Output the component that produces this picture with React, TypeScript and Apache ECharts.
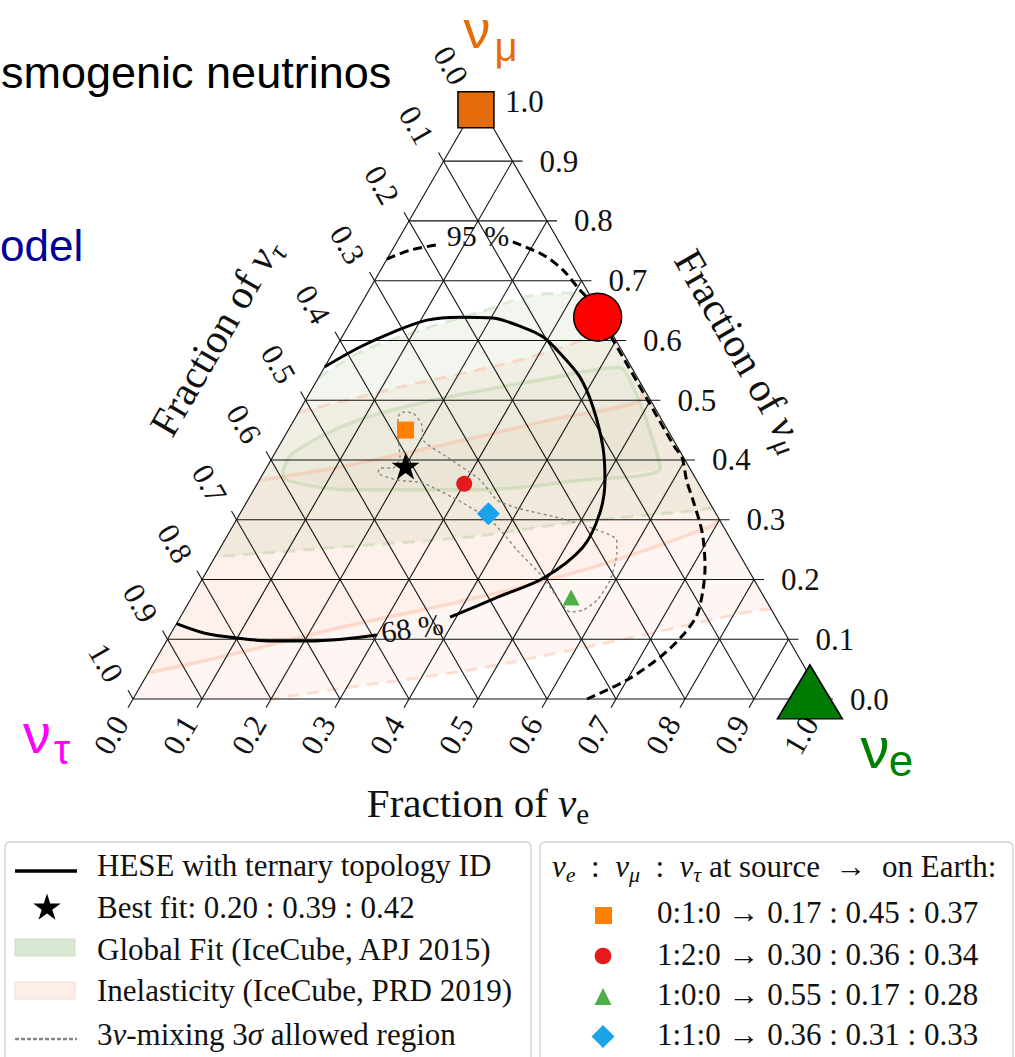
import React, { useEffect, useRef } from "react";
import * as echarts from "echarts";

const SQ3 = Math.sqrt(3) / 2;

// Tick positions shared by the three ternary axes
const tickValues = [0, 0.1, 0.2, 0.3, 0.4, 0.5, 0.6, 0.7, 0.8, 0.9, 1.0];
const tickLabels = ["0.0", "0.1", "0.2", "0.3", "0.4", "0.5", "0.6", "0.7", "0.8", "0.9", "1.0"];

// Every composition below is [fraction of νe, fraction of νμ]; ντ is the remainder.
const bestFit = [0.2, 0.39, 0.42];

const sourceRatios = ["0:1:0", "1:2:0", "1:0:0", "1:1:0"];
const earthNuE = [0.17, 0.3, 0.55, 0.36];
const earthNuMu = [0.45, 0.36, 0.17, 0.31];
const earthNuTau = [0.37, 0.34, 0.28, 0.33];

// Large source markers near the νμ corner, the νμ/νe edge and the νe corner
const cornerNuE = [0.004, 0.354, 0.975];
const cornerNuMu = [0.986, 0.639, 0.012];

// HESE ternary-topology contours
const hese68Lower = [
  [0.0, 0.126], [0.049, 0.11], [0.1, 0.102], [0.153, 0.097], [0.204, 0.097], [0.253, 0.1], [0.3, 0.107],
];
const hese68Upper = [
  [0.391, 0.137], [0.446, 0.172], [0.494, 0.2025], [0.525, 0.254], [0.521, 0.311], [0.501, 0.366],
  [0.47, 0.422], [0.422, 0.489], [0.378, 0.539], [0.329, 0.579], [0.291, 0.606], [0.254, 0.622],
  [0.203, 0.6375], [0.154, 0.639], [0.109, 0.634], [0.07, 0.614], [0.0345, 0.589], [0.0, 0.556],
];
const hese95Left = [[0.0, 0.736], [0.026, 0.751], [0.061, 0.76]];
const hese95Right = [
  [0.168, 0.765], [0.223, 0.743], [0.264, 0.718], [0.301, 0.688], [0.336, 0.66], [0.396, 0.6],
  [0.496, 0.5], [0.576, 0.42], [0.593, 0.405], [0.62, 0.365], [0.645, 0.333], [0.686, 0.278],
  [0.7185, 0.221], [0.735, 0.182], [0.747, 0.1406], [0.7436, 0.107], [0.729, 0.0703], [0.7, 0.0318],
  [0.658, 0.0],
];
const contourLabelText = ["68 %", "95 %"];
const contourLabelPos = [[0.345, 0.119], [0.1126, 0.775]];

// Global fit (IceCube, APJ 2015)
const globalFit95Upper = [[0, 0.537], [0.0387, 0.5807], [0.107, 0.6175], [0.179, 0.6476], [0.251, 0.6777], [0.32, 0.68]];
const globalFit95Lower = [[0.68, 0.32], [0.6637, 0.3163], [0.486, 0.2945], [0.353, 0.271], [0.159, 0.2527], [0, 0.2376]];
const globalFit68 = [
  [0.026, 0.383], [0.026, 0.4116], [0.0836, 0.4618], [0.185, 0.5003], [0.336, 0.537], [0.426, 0.555],
  [0.47, 0.515], [0.52, 0.455], [0.571, 0.3865], [0.469, 0.3665], [0.332, 0.35], [0.1395, 0.35],
  [0.032, 0.3715],
];

// Inelasticity (IceCube, PRD 2019)
const inel95Upper = [[0, 0.48], [0.126, 0.522], [0.252, 0.559], [0.325, 0.587], [0.38, 0.62]];
const inel95Lower = [[0.85, 0.15], [0.834, 0.149], [0.657, 0.0987], [0.464, 0.0485], [0.278, 0.015], [0.2, 0]];
const inel68Lower = [[0, 0.0435], [0.104, 0.0736], [0.228, 0.1155], [0.418, 0.1707], [0.565, 0.224], [0.692, 0.288], [0.7, 0.3]];
const inel68Upper = [[0.47, 0.53], [0.486, 0.505], [0.371, 0.467], [0.245, 0.428], [0.119, 0.3916], [0, 0.366]];

// 3ν-mixing 3σ allowed region
const mixingRegion = [
  [0.15, 0.48], [0.1665, 0.4786], [0.1895, 0.4585], [0.2036, 0.4334], [0.2526, 0.405], [0.3197, 0.3665],
  [0.361, 0.333], [0.3967, 0.3196], [0.479, 0.2995], [0.568, 0.266], [0.579, 0.2443], [0.592, 0.1991],
  [0.59, 0.1657], [0.578, 0.1489], [0.5605, 0.1456], [0.529, 0.1707], [0.492, 0.204], [0.432, 0.2493],
  [0.397, 0.2778], [0.368, 0.2995], [0.314, 0.328], [0.2396, 0.3614], [0.1994, 0.3665], [0.166, 0.3782],
  [0.1647, 0.3865], [0.1835, 0.3865], [0.1845, 0.405], [0.1649, 0.4384], [0.148, 0.4719], [0.15, 0.48],
];

const serif = '"Liberation Serif", "DejaVu Serif", serif';
const sans = '"Liberation Sans", Arial, sans-serif';

const GREEN_LINE = "rgba(150,195,130,0.3)";
const PINK_LINE = "rgba(250,175,145,0.38)";

function tern(p: number[]): number[] {
  return [p[0] + p[1] / 2, p[1] * SQ3];
}

function mathRich(size: number, sub: number, color = "#111") {
  return {
    r: { fontFamily: serif, fontSize: size, lineHeight: size * 1.25, fill: color },
    m: { fontFamily: serif, fontSize: size, fontStyle: "italic", lineHeight: size * 1.25, fill: color },
    s: { fontFamily: serif, fontSize: sub, lineHeight: sub, verticalAlign: "bottom", fill: color },
    si: { fontFamily: serif, fontSize: sub, fontStyle: "italic", lineHeight: sub, verticalAlign: "bottom", fill: color },
  };
}

function regionFill(pts: number[][], color: string, z: number) {
  return {
    type: "custom",
    coordinateSystem: "cartesian2d",
    data: [[0.5, 0.3]],
    z,
    silent: true,
    clip: false,
    renderItem: (_p: any, api: any) => ({
      type: "polygon",
      shape: { points: pts.map((q) => api.coord(tern(q))) },
      style: { fill: color },
    }),
  };
}

function curve(pts: number[][], color: string, width: number, dash: any, z: number, smooth = 0.3) {
  return {
    type: "line",
    data: pts.map(tern),
    symbol: "none",
    smooth,
    clip: false,
    silent: true,
    z,
    lineStyle: { color, width, type: dash },
  };
}

function starPath(): string {
  const pts: string[] = [];
  for (let k = 0; k < 10; k++) {
    const r = k % 2 === 0 ? 1 : 0.382;
    const a = -Math.PI / 2 + (k * Math.PI) / 5;
    pts.push(`${(r * Math.cos(a)).toFixed(4)} ${(r * Math.sin(a)).toFixed(4)}`);
  }
  return "M" + pts.join(" L") + " Z";
}

function starPoints(cx: number, cy: number, R: number): number[][] {
  const pts: number[][] = [];
  for (let k = 0; k < 10; k++) {
    const r = k % 2 === 0 ? R : R * 0.382;
    const a = -Math.PI / 2 + (k * Math.PI) / 5;
    pts.push([cx + r * Math.cos(a), cy + r * Math.sin(a)]);
  }
  return pts;
}

function buildOption() {
  const TICK = 10;
  const tickFont = 31;

  const gridSeries = {
    type: "custom",
    coordinateSystem: "cartesian2d",
    data: tickValues.map((v) => [v, 0]),
    z: 3,
    silent: true,
    clip: false,
    renderItem: (params: any, api: any) => {
      const i = params.dataIndex;
      const v = tickValues[i];
      const label = tickLabels[i];
      const P = (e: number, m: number) => api.coord(tern([e, m]));
      const ln = (a: number[], b: number[]) => ({
        type: "line",
        shape: { x1: a[0], y1: a[1], x2: b[0], y2: b[1] },
        style: { stroke: "#111", lineWidth: 1.1 },
      });
      const txt = (x: number, y: number, rot: number, align: string) => ({
        type: "text",
        x,
        y,
        rotation: rot,
        style: {
          text: label,
          x: 0,
          y: 0,
          align,
          verticalAlign: "middle",
          fontFamily: serif,
          fontSize: tickFont,
          fill: "#111",
        },
      });
      // constant νμ (horizontal) with tick to the right
      const mL = P(0, v);
      const mR = P(1 - v, v);
      // constant νe with tick below the base
      const eB = P(v, 0);
      const eR = P(v, 1 - v);
      // constant ντ with tick beyond the left side
      const tB = P(1 - v, 0);
      const tL = P(0, 1 - v);
      return {
        type: "group",
        children: [
          ln(mL, [mR[0] + TICK, mR[1]]),
          ln([eB[0] - TICK * 0.5, eB[1] + TICK * SQ3], eR),
          ln(tB, [tL[0] - TICK * 0.5, tL[1] - TICK * SQ3]),
          txt(mR[0] + 27, mR[1], 0, "left"),
          txt(eB[0] - 22, eB[1] + 36, Math.PI / 3, "center"),
          txt(tL[0] - 27, tL[1] - 36, -Math.PI / 3, "center"),
        ],
      };
    },
  };

  const contourLabels = {
    type: "custom",
    coordinateSystem: "cartesian2d",
    data: contourLabelPos.map(tern),
    z: 5,
    silent: true,
    clip: false,
    renderItem: (params: any, api: any) => {
      const i = params.dataIndex;
      const c = api.coord(tern(contourLabelPos[i]));
      return {
        type: "text",
        x: c[0],
        y: c[1],
        rotation: i === 0 ? 0.14 : 0,
        style: {
          text: contourLabelText[i],
          align: "center",
          verticalAlign: "middle",
          fontFamily: serif,
          fontSize: 30,
          fill: "#111",
        },
      };
    },
  };

  const earthStyles = [
    { symbol: "rect", size: 17, color: "#ff7f00" },
    { symbol: "circle", size: 16, color: "#e41a1c" },
    { symbol: "triangle", size: [17, 16], color: "#4daf4a" },
    { symbol: "diamond", size: [23, 23], color: "#1aa3e8" },
  ];
  const earthSeries = earthStyles.map((s, i) => ({
    type: "scatter",
    data: [tern([earthNuE[i], earthNuMu[i]])],
    symbol: s.symbol,
    symbolSize: s.size,
    itemStyle: { color: s.color, opacity: 1 },
    z: 6,
    silent: true,
  }));

  const cornerStyles = [
    { symbol: "rect", size: 36, color: "#e46c0a" },
    { symbol: "circle", size: 48, color: "#ff0000" },
    { symbol: "triangle", size: [65, 54], color: "#007a00" },
  ];
  const cornerSeries = cornerStyles.map((s, i) => ({
    type: "scatter",
    data: [tern([cornerNuE[i], cornerNuMu[i]])],
    symbol: s.symbol,
    symbolSize: s.size,
    itemStyle: { color: s.color, borderColor: "#000", borderWidth: 1.5, opacity: 1 },
    z: 8,
    silent: true,
  }));

  const series: any[] = [
    regionFill([...inel95Upper, ...inel95Lower, [0, 0]], "rgba(250,170,140,0.11)", 1),
    regionFill([...inel68Lower, ...inel68Upper], "rgba(250,170,140,0.07)", 1),
    regionFill([...globalFit95Upper, ...globalFit95Lower], "rgba(170,195,140,0.15)", 1),
    regionFill(globalFit68, "rgba(170,195,140,0.08)", 1),
    curve(inel95Upper, PINK_LINE, 3, [12, 8], 2),
    curve(inel95Lower, PINK_LINE, 3, [12, 8], 2),
    curve(inel68Lower, PINK_LINE, 3.5, "solid", 2),
    curve(inel68Upper, PINK_LINE, 3.5, "solid", 2),
    curve(globalFit95Upper, GREEN_LINE, 3, [12, 8], 2),
    curve(globalFit95Lower, GREEN_LINE, 3, [12, 8], 2),
    curve([...globalFit68, globalFit68[0]], GREEN_LINE, 3.5, "solid", 2),
    gridSeries,
    curve(mixingRegion, "#888", 1.4, [3, 3], 4, 0.2),
    curve(hese68Lower, "#000", 3, "solid", 5),
    curve(hese68Upper, "#000", 3, "solid", 5),
    curve(hese95Left, "#000", 3, [9, 5], 5),
    curve(hese95Right, "#000", 3, [9, 5], 5),
    contourLabels,
    {
      type: "scatter",
      data: [tern(bestFit)],
      symbol: "path://" + starPath(),
      symbolSize: [28, 27],
      itemStyle: { color: "#000", opacity: 1 },
      z: 7,
      silent: true,
    },
    ...earthSeries,
    ...cornerSeries,
  ];

  // Legend and annotation text drawn in page pixels
  const leftRows = [865, 907, 949, 990.5, 1034];
  const rightRows = [912.5, 954, 994, 1034];
  const fmt = (v: number) => v.toFixed(2);
  const earthRows = sourceRatios.map(
    (s, i) => `${s} → ${fmt(earthNuE[i])} : ${fmt(earthNuMu[i])} : ${fmt(earthNuTau[i])}`
  );
  const legendText = (x: number, y: number, text: string, rich?: any) => ({
    type: "text",
    x,
    y,
    z: 20,
    style: {
      text,
      rich,
      align: "left",
      verticalAlign: "middle",
      fontFamily: serif,
      fontSize: 31,
      fill: "#111",
    },
  });
  const big = (x: number, y: number, text: string, size: number, fill: string) => ({
    type: "text",
    x,
    y,
    style: { text, align: "center", verticalAlign: "middle", fontFamily: sans, fontSize: size, lineHeight: size * 0.8, fill },
  });

  const graphic: any[] = [
    // slide text fragments
    {
      type: "text", x: 1, y: 72, style: { text: "smogenic neutrinos", align: "left", verticalAlign: "middle", fontFamily: sans, fontSize: 45, fill: "#000" },
    },
    {
      type: "text", x: 0, y: 245, style: { text: "odel", align: "left", verticalAlign: "middle", fontFamily: sans, fontSize: 44, fill: "#000099" },
    },
    // flavour corner names
    big(477, 29, "ν", 54, "#e46c0a"),
    big(506, 47, "μ", 40, "#e46c0a"),
    big(37, 733, "ν", 56, "#ff00ff"),
    big(62, 749, "τ", 42, "#ff00ff"),
    big(875, 747, "ν", 58, "#008000"),
    big(901, 760, "e", 44, "#008000"),
    // axis titles
    {
      type: "text", x: 478, y: 803,
      style: { text: "{r|Fraction of }{m|ν}{s|e}", rich: mathRich(41, 29), align: "center", verticalAlign: "middle" },
    },
    {
      type: "text", x: 741, y: 350, rotation: -Math.PI / 3,
      style: { text: "{r|Fraction of }{m|ν}{si|μ}", rich: mathRich(41, 29), align: "center", verticalAlign: "middle" },
    },
    {
      type: "text", x: 215, y: 337, rotation: Math.PI / 3,
      style: { text: "{r|Fraction of }{m|ν}{si|τ}", rich: mathRich(41, 29), align: "center", verticalAlign: "middle" },
    },
    // legend frames
    { type: "rect", z: 10, shape: { x: 5, y: 842, width: 526, height: 260, r: 5 }, style: { fill: "#fff", stroke: "#cfcfcf", lineWidth: 1.3 } },
    { type: "rect", z: 10, shape: { x: 540, y: 842, width: 473, height: 260, r: 5 }, style: { fill: "#fff", stroke: "#cfcfcf", lineWidth: 1.3 } },
    // left legend handles
    { type: "line", z: 20, shape: { x1: 15, y1: 871, x2: 77, y2: 871 }, style: { stroke: "#000", lineWidth: 3.5 } },
    { type: "polygon", z: 20, shape: { points: starPoints(47, 908, 14.5) }, style: { fill: "#000" } },
    { type: "rect", z: 20, shape: { x: 15, y: 939, width: 60, height: 17 }, style: { fill: "#d9e8d2", stroke: "#cadcc1", lineWidth: 1 } },
    { type: "rect", z: 20, shape: { x: 15, y: 982, width: 60, height: 17 }, style: { fill: "#fdeee8", stroke: "#f2dcd3", lineWidth: 1 } },
    { type: "line", z: 20, shape: { x1: 15, y1: 1039, x2: 77, y2: 1039 }, style: { stroke: "#888", lineWidth: 2.5, lineDash: [4, 2] } },
    legendText(97, leftRows[0], "HESE with ternary topology ID"),
    legendText(97, leftRows[1], `Best fit: ${bestFit.map(fmt).join(" : ")}`),
    legendText(97, leftRows[2], "Global Fit (IceCube, APJ 2015)"),
    legendText(97, leftRows[3], "Inelasticity (IceCube, PRD 2019)"),
    legendText(97, leftRows[4], "{r|3}{m|ν}{r|-mixing 3}{m|σ}{r| allowed region}", mathRich(31, 22)),
    // right legend
    legendText(
      552,
      866,
      "{m|ν}{si|e}{r|\u2002:\u2002}{m|ν}{si|μ}{r|\u2002:\u2002}{m|ν}{si|τ}{r| at source\u2002→\u2002on Earth:}",
      mathRich(31, 22)
    ),
    { type: "rect", z: 20, shape: { x: 595, y: 907, width: 17, height: 17 }, style: { fill: "#ff7f00" } },
    { type: "circle", z: 20, shape: { cx: 603, cy: 956, r: 8.3 }, style: { fill: "#e41a1c" } },
    { type: "polygon", z: 20, shape: { points: [[603, 988], [594.5, 1005], [611.5, 1005]] }, style: { fill: "#4daf4a" } },
    { type: "polygon", z: 20, shape: { points: [[603, 1025], [614.5, 1036.5], [603, 1048], [591.5, 1036.5]] }, style: { fill: "#1aa3e8" } },
    ...earthRows.map((t, i) => legendText(657, rightRows[i], t)),
  ];

  return {
    animation: false,
    backgroundColor: "#fff",
    grid: { left: 133, top: 101.4, width: 690, height: 597.6 },
    xAxis: { type: "value", min: 0, max: 1, show: false },
    yAxis: { type: "value", min: 0, max: SQ3, show: false },
    series,
    graphic,
  };
}

export default function App() {
  const ref = useRef<HTMLDivElement>(null);
  useEffect(() => {
    if (!ref.current) return;
    const chart = echarts.init(ref.current, null, { renderer: "svg" });
    chart.setOption(buildOption() as any);
    return () => chart.dispose();
  }, []);
  return (
    <div
      ref={ref}
      style={{ position: "absolute", left: 0, top: 0, width: 1015, height: 1057, background: "#fff" }}
    />
  );
}
